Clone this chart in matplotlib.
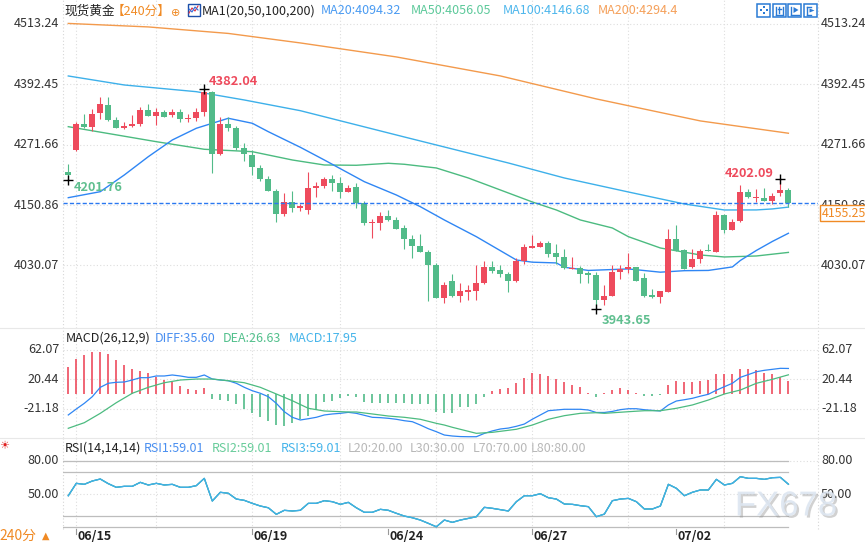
import numpy as np
import matplotlib
matplotlib.use("Agg")
import matplotlib.pyplot as plt
from matplotlib.patches import Rectangle
from matplotlib.lines import Line2D
from matplotlib import transforms
from matplotlib import patheffects as pe

plt.rcParams['font.family'] = ['Noto Sans CJK SC', 'DejaVu Sans']

# ---- 240 min gold candles ----
opens = [4216.9, 4260.9, 4312.9, 4307.5, 4334.5, 4350.9, 4320.9, 4305.0, 4309.5, 4312.3,
         4340.9, 4329.5, 4336.3, 4331.0, 4336.3, 4323.5, 4325.5, 4337.5, 4377.5, 4252.9,
         4312.9, 4304.9, 4265.5, 4250.9, 4224.9, 4202.9, 4178.9, 4133.5, 4156.9, 4145.5,
         4141.5, 4184.9, 4189.5, 4202.9, 4194.9, 4177.5, 4186.9, 4154.9, 4114.2, 4115.5,
         4128.9, 4120.9, 4104.9, 4082.9, 4068.9, 4056.9, 4030.9, 3965.5, 3998.9, 3968.9,
         3976.9, 3979.5, 3994.9, 4026.9, 4020.9, 4012.9, 3998.9, 4039.5, 4065.5, 4066.9,
         4074.9, 4054.9, 4047.5, 4022.9, 4024.9, 4014.2, 4010.9, 3960.9, 3968.9, 4017.5,
         4022.2, 4026.2, 4005.5, 3970.2, 3966.2, 3977.5, 4082.9, 4060.9, 4026.2, 4043.5,
         4060.9, 4057.5, 4130.9, 4100.9, 4118.9, 4176.9, 4165.5, 4165.5, 4159.5, 4174.2,
         4181.5]
highs = [4232.9, 4316.0, 4332.9, 4342.9, 4366.3, 4366.3, 4326.3, 4317.5, 4330.3, 4346.9,
         4352.9, 4344.3, 4340.9, 4342.9, 4342.9, 4332.3, 4344.3, 4382.04, 4378.9, 4326.9,
         4327.5, 4309.0, 4274.2, 4260.9, 4231.5, 4208.9, 4182.9, 4174.9, 4178.9, 4152.5,
         4216.9, 4196.9, 4206.9, 4210.9, 4206.9, 4190.3, 4194.9, 4158.9, 4122.9, 4136.9,
         4140.9, 4126.9, 4110.9, 4090.9, 4092.9, 4061.5, 4034.2, 3997.5, 4012.9, 3994.2,
         3991.5, 4030.9, 4038.2, 4038.2, 4030.2, 4016.9, 4044.2, 4072.9, 4090.9, 4078.2,
         4078.9, 4072.9, 4062.9, 4047.5, 4028.9, 4018.2, 4017.5, 3990.9, 4030.9, 4031.5,
         4055.5, 4027.5, 4015.5, 3982.2, 3979.0, 4102.9, 4110.2, 4063.5, 4062.2, 4062.9,
         4072.2, 4138.9, 4132.0, 4122.9, 4190.9, 4183.5, 4182.3, 4184.3, 4174.3, 4202.09,
         4185.5]
lows = [4201.76, 4259.5, 4305.0, 4299.5, 4323.5, 4318.9, 4304.0, 4303.5, 4306.0, 4309.0,
        4328.5, 4311.5, 4326.5, 4326.9, 4317.5, 4317.5, 4319.5, 4329.5, 4215.5, 4250.9,
        4299.5, 4260.9, 4238.9, 4210.9, 4199.5, 4178.5, 4117.5, 4129.5, 4137.5, 4139.5,
        4133.5, 4167.5, 4185.5, 4179.5, 4165.5, 4176.5, 4145.5, 4111.5, 4085.5, 4101.5,
        4119.5, 4102.5, 4063.5, 4045.5, 4056.5, 3959.5, 3964.5, 3954.2, 3967.5, 3957.5,
        3961.5, 3961.5, 3993.5, 4014.2, 4006.2, 3977.5, 3997.5, 4032.2, 4064.5, 4065.9,
        4046.9, 4033.5, 4022.2, 4021.9, 3995.5, 3994.2, 3943.65, 3950.0, 3967.9, 4002.9,
        4015.5, 3999.0, 3967.5, 3965.0, 3954.2, 3976.5, 4058.5, 4022.5, 4025.0, 4035.5,
        4058.0, 4056.5, 4095.5, 4099.9, 4116.9, 4165.5, 4157.5, 4159.0, 4152.3, 4168.9,
        4146.3]
closes = [4211.5, 4312.9, 4307.5, 4332.9, 4352.9, 4321.5, 4305.5, 4309.5, 4312.3, 4340.9,
          4329.5, 4336.3, 4327.5, 4336.3, 4323.5, 4325.0, 4336.3, 4377.5, 4253.5, 4312.3,
          4305.5, 4265.5, 4252.2, 4226.1, 4203.5, 4179.5, 4133.5, 4156.9, 4145.5, 4149.5,
          4184.9, 4189.5, 4202.9, 4194.9, 4177.5, 4184.9, 4155.5, 4115.5, 4117.5, 4128.9,
          4121.5, 4103.5, 4083.5, 4069.5, 4057.5, 4031.5, 3965.5, 3990.9, 3968.9, 3978.9,
          3980.9, 3994.9, 4026.9, 4018.9, 4012.9, 3998.9, 4039.5, 4066.9, 4069.5, 4074.9,
          4053.5, 4047.5, 4024.2, 4024.9, 4013.5, 4010.9, 3960.9, 3968.9, 4016.9, 4022.2,
          4026.2, 3999.5, 3968.9, 3966.2, 3978.2, 4082.9, 4059.5, 4023.5, 4042.9, 4058.9,
          4058.9, 4130.9, 4100.9, 4116.9, 4176.9, 4166.2, 4167.5, 4159.5, 4169.5, 4180.9,
          4155.25]

# moving averages, read at a few bars each
ma20_idx = [0, 4, 7, 10, 13, 16, 20, 23, 25, 29, 32, 37, 41, 44, 47, 51, 56, 58, 61, 62,
            65, 70, 74, 77, 80, 83, 84, 86, 88, 90]
ma20_val = [4165.5, 4177.5, 4210.9, 4247.5, 4280.9, 4304.3, 4324.3, 4314.3, 4297.5, 4266.3,
            4240.9, 4197.5, 4170.9, 4147.5, 4120.9, 4087.5, 4040.9, 4036.5, 4035.0, 4026.3,
            4020.0, 4023.0, 4016.5, 4019.5, 4020.0, 4027.0, 4040.0, 4060.0, 4078.0, 4094.32]
ma50_idx = [0, 11, 17, 23, 28, 32, 36, 40, 42, 46, 50, 54, 58, 61, 64, 68, 70, 74, 79, 82,
            86, 90]
ma50_val = [4307.5, 4277.5, 4262.3, 4257.5, 4240.9, 4230.9, 4230.3, 4234.3, 4232.3, 4224.9,
            4204.9, 4180.9, 4156.9, 4140.9, 4120.9, 4104.9, 4087.5, 4064.9, 4050.9, 4046.9,
            4048.9, 4056.05]
ma100_idx = [0, 7, 16, 22, 29, 42, 55, 62, 70, 77, 82, 86, 88, 90]
ma100_val = [4408.9, 4390.9, 4377.5, 4360.9, 4339.5, 4286.9, 4234.9, 4204.9, 4176.9, 4152.9,
             4140.9, 4141.0, 4143.0, 4146.68]
ma200_idx = [0, 10, 20, 29, 41, 54, 66, 79, 90]
ma200_val = [4514.0, 4507.0, 4494.0, 4475.0, 4447.0, 4409.0, 4363.0, 4319.0, 4294.4]

# MACD(26,12,9)
diff_vals = [-30.0, -21.6, -13.6, -4.2, 9.0, 14.7, 16.1, 16.5, 19.3, 22.6,
             22.6, 25.0, 25.0, 26.4, 25.0, 23.1, 23.1, 26.4, 20.7, 19.3,
             18.3, 14.7, 9.0, 4.2, 0.6, -4.2, -13.6, -25.4, -33.3, -37.1,
             -35.3, -33.3, -30.0, -28.6, -27.7, -26.3, -27.7, -30.5, -33.3, -33.8,
             -34.7, -36.1, -38.1, -39.5, -44.2, -49.4, -53.6, -58.3, -59.7, -60.5,
             -60.7, -60.7, -56.0, -52.5, -49.8, -48.5, -46.0, -42.8, -36.0, -30.0,
             -24.0, -23.0, -22.0, -22.0, -22.0, -23.0, -26.5, -26.5, -25.0, -22.5,
             -21.2, -21.2, -22.6, -23.5, -24.4, -15.9, -10.3, -8.5, -6.5, -3.5,
             -0.8, 5.0, 9.9, 14.7, 23.1, 27.0, 31.0, 33.0, 34.4, 35.8,
             35.60]
dea_idx = [0, 2, 4, 6, 8, 10, 12, 14, 16, 18, 20, 22, 24, 26, 28, 30, 32, 35, 36, 38,
           40, 42, 44, 46, 47, 48, 51, 53, 56, 58, 60, 62, 64, 66, 67, 70, 72, 74, 76, 78,
           80, 82, 84, 86, 88, 90]
dea_val = [-48.8, -40.9, -27.7, -12.7, 0.6, 9.0, 15.5, 19.3, 20.7, 20.7, 18.3, 15.5, 9.0,
           -0.4, -9.9, -20.6, -24.4, -25.8, -25.8, -28.6, -31.5, -33.3, -36.1, -41.8, -44.2,
           -47.4, -55.9, -54.5, -50.2, -44.2, -36.1, -31.0, -27.7, -26.8, -27.7, -25.4, -24.0,
           -24.0, -20.6, -15.9, -8.9, -0.4, 5.2, 14.7, 20.3, 26.63]
macd_hist = [38.1, 49.0, 54.6, 58.8, 58.8, 56.5, 47.6, 40.9, 34.9, 31.6,
             29.6, 24.0, 19.3, 16.9, 10.9, 6.6, 5.2, 8.0, -7.9, -8.9,
             -10.3, -14.5, -22.0, -27.7, -33.3, -38.1, -44.2, -45.1, -41.9, -36.2,
             -31.0, -23.0, -12.2, -9.9, -6.6, -3.3, -4.2, -11.3, -12.7, -12.7,
             -12.7, -12.7, -13.6, -14.5, -14.5, -14.5, -26.3, -26.8, -27.7, -19.2,
             -19.2, -14.5, -4.2, 3.8, 6.6, 8.5, 15.5, 22.1, 29.2, 27.8,
             25.4, 20.7, 16.5, 12.3, 9.9, 1.4, -4.2, 1.4, 5.2, 7.6,
             5.2, 1.4, -2.8, -2.8, -2.4, 12.3, 17.9, 16.5, 16.5, 17.9,
             19.3, 28.2, 28.2, 28.2, 35.3, 35.3, 33.4, 29.6, 27.4, 23.6,
             17.95]

# RSI(14,14,14) - the three lines coincide on this chart
rsi_vals = [48.6, 59.8, 58.9, 61.9, 63.7, 59.5, 56.2, 57.1, 57.1, 60.7,
            58.3, 59.8, 58.3, 58.9, 56.2, 56.2, 57.7, 64.3, 43.8, 51.7,
            50.8, 45.6, 44.4, 41.7, 39.3, 37.7, 31.8, 35.4, 34.8, 35.4,
            41.7, 41.7, 44.1, 43.2, 40.8, 42.6, 37.7, 33.6, 33.6, 36.3,
            35.4, 32.7, 30.2, 28.7, 26.6, 23.6, 20.5, 26.6, 24.5, 26.6,
            28.1, 29.6, 38.1, 37.2, 36.0, 34.8, 43.2, 48.6, 48.6, 50.4,
            46.8, 45.6, 41.1, 40.8, 39.6, 38.7, 29.6, 32.0, 44.1, 45.6,
            46.2, 43.2, 36.6, 36.6, 39.3, 58.9, 55.3, 48.6, 51.7, 53.8,
            53.8, 63.4, 58.3, 59.8, 65.8, 64.3, 64.3, 63.4, 64.9, 65.2,
            59.01]
rsi_levels = [20, 30, 70, 80]

date_idx = [1, 23, 40, 58, 76]
date_labels = ["06/15", "06/19", "06/24", "06/27", "07/02"]
grid_idx = [1, 11, 23, 34, 46, 58, 70, 82]
price_ticks = [4513.24, 4392.45, 4271.66, 4150.86, 4030.07]
macd_ticks = [62.07, 20.44, -21.18]
rsi_ticks = [80.00, 50.00]

# bars to flag with the high/low marker
marks = [(17, "high"), (0, "low"), (66, "low"), (89, "high")]

# ---- colours ----
RED = "#ee4b5d"
GREEN = "#52bb89"
C_MA20 = "#2f86f4"
C_MA50 = "#4cbb80"
C_MA100 = "#3db0ea"
C_MA200 = "#f39a4c"
GRID = "#dedede"
TXT = "#333333"
ORANGE = "#f08a24"

W, H = 865, 542
PX_L, PX_R = 63, 818
XLIM = (-0.66, 93.7)

fig = plt.figure(figsize=(W / 100, H / 100), dpi=100)


def panel(top, bottom):
    return fig.add_axes([PX_L / W, 1 - bottom / H, (PX_R - PX_L) / W, (bottom - top) / H])


def fx(x):
    return x / W


def fy(y):
    return 1 - y / H


def ftext(x, y, s, **kw):
    kw.setdefault("va", "center")
    kw.setdefault("fontsize", 9)
    fig.text(fx(x), fy(y), s, **kw)


def fline(xs, ys, **kw):
    fig.add_artist(Line2D([fx(v) for v in xs], [fy(v) for v in ys],
                          transform=fig.transFigure, **kw))


def frect(x0, y0, x1, y1, **kw):
    fig.add_artist(Rectangle((fx(x0), fy(y1)), (x1 - x0) / W, (y1 - y0) / H,
                             transform=fig.transFigure, **kw))


ax_k = panel(0, 328)
ax_m = panel(328, 438)
ax_r = panel(438, 529)
ax_k.set_ylim(3904.86, 4560.86)
ax_m.set_ylim(-62.5, 92.7)
ax_r.set_ylim(18.5, 100.8)

for ax, ticks in ((ax_k, price_ticks), (ax_m, macd_ticks), (ax_r, rsi_ticks)):
    ax.set_xlim(*XLIM)
    ax.axis("off")
    for v in ticks:
        ax.axhline(v, color=GRID, lw=0.8, ls=(0, (1, 2)), zorder=0)
        ax.text(-0.005, v, f"{v:.2f}", transform=ax.get_yaxis_transform(),
                ha="right", va="center", fontsize=9, color=TXT)
        ax.text(1.004, v, f"{v:.2f}", transform=ax.get_yaxis_transform(),
                ha="left", va="center", fontsize=9, color=TXT)
    for i in grid_idx:
        ax.axvline(i, color=GRID, lw=0.8, ls=(0, (1, 2)), zorder=0)
    for xa in (0, 1):
        ax.plot([xa, xa], [0, 1], transform=ax.transAxes, color="#d6d6d6", lw=0.8,
                ls=(0, (1, 2)), clip_on=False)

# panel separators
for yy in (328, 438):
    fline([0, 865], [yy, yy], color="#e8e8e8", lw=0.8)

# ---- candles ----
x = np.arange(len(closes))
o, h, l, c = map(np.array, (opens, highs, lows, closes))
col = np.where(c >= o, RED, GREEN)
ax_k.vlines(x, l, h, colors=col, lw=0.8, zorder=3)
ax_k.bar(x, np.maximum(np.abs(c - o), 1.4), bottom=np.minimum(o, c), width=0.75,
         color=col, linewidth=0, zorder=3)

ax_k.plot(ma200_idx, ma200_val, color=C_MA200, lw=1, zorder=2)
ax_k.plot(ma100_idx, ma100_val, color=C_MA100, lw=1, zorder=2)
ax_k.plot(ma50_idx, ma50_val, color=C_MA50, lw=1, zorder=2)
ax_k.plot(ma20_idx, ma20_val, color=C_MA20, lw=1, zorder=2)

# last price line and tag
last = closes[-1]
ax_k.axhline(last, color="#2a78f0", lw=1, ls=(0, (3, 1.6)), zorder=4)
ax_k.annotate(f"{last:.2f}", xy=(1.0, last), xycoords=("axes fraction", "data"),
              xytext=(3.5, -10.5), textcoords="offset pixels", ha="left", va="center",
              fontsize=8.9, color=ORANGE, annotation_clip=False, zorder=6,
              bbox=dict(boxstyle="square,pad=0.12", fc="white", ec=ORANGE, lw=1))

# high / low flags
for i, kind in marks:
    v = highs[i] if kind == "high" else lows[i]
    ax_k.plot(i, v, marker="+", color="black", ms=7, mew=1, zorder=5, clip_on=False)
    tc = RED if kind == "high" else "#5fbf8f"
    if i > 80:
        off, ha = (-7, 6), "right"
    elif kind == "high":
        off, ha = (4, 7.5), "left"
    elif i > 40:
        off, ha = (5, -11.5), "left"
    else:
        off, ha = (5, -8), "left"
    ax_k.annotate(f"{v:.2f}", xy=(i, v), xytext=off, textcoords="offset pixels",
                  ha=ha, va="center", fontsize=9.2, fontweight="bold", color=tc, zorder=5)

# ---- MACD ----
hist = np.array(macd_hist)
ax_m.vlines(x, 0, hist, colors=np.where(hist >= 0, RED, GREEN), lw=1.2)
ax_m.plot(x, diff_vals, color=C_MA20, lw=0.9)
ax_m.plot(dea_idx, dea_val, color=C_MA50, lw=0.9)

# ---- RSI ----
for lv in rsi_levels:
    ax_r.plot([XLIM[0], x[-1]], [lv, lv], color="#bdbdbd", lw=0.9)
ax_r.plot(x, rsi_vals, color="#4a8ff0", lw=0.9)
ax_r.plot(x, rsi_vals, color="#52c08c", lw=0.9)
ax_r.plot(x, rsi_vals, color=C_MA100, lw=0.9)

# date axis
bt = transforms.blended_transform_factory(ax_r.transData, fig.transFigure)
for i, lab in zip(date_idx, date_labels):
    fig.add_artist(Line2D([i, i], [fy(529), fy(534)], transform=bt, color="#999999", lw=0.8))
    fig.text(i + 0.1, fy(536.5), lab, transform=bt, ha="left", va="center",
             fontsize=9, fontweight="bold", color="#222222")

# ---- header texts ----
ftext(64, 11, "现货黄金", color="#222222", fontsize=9.1)
ftext(112, 11, "【240分】", color=ORANGE, fontsize=9.1)
ftext(176, 12.5, "⊕", color=ORANGE, fontsize=8, ha="center", family=["DejaVu Sans"])
frect(187.5, 3.5, 199.5, 16, fill=False, ec="#1d4fa8", lw=1)
fline([189, 192, 195, 198], [13, 8, 11, 6], color="#e03040", lw=0.8)
fline([189, 192, 195, 198], [9, 12, 7, 10], color="#2f6fe0", lw=0.8)
ftext(202, 11, "MA1(20,50,100,200)", color="#222222")
ftext(321, 11, "MA20:4094.32", color="#4a9bf2")
ftext(411, 11, "MA50:4056.05", color="#5cc99a")
ftext(503, 11, "MA100:4146.68", color="#4db6ec")
ftext(598, 11, "MA200:4294.4", color="#f5a05a")

# toolbar icons, top right
for k in range(4):
    x0 = 757 + 15.5 * k
    frect(x0, 4, x0 + 13.3, 16.7, fill=False, ec="#2a7ad5", lw=1.1)
ix = 757
for dx, dy in ((0, -3), (0, 3), (-3, 0), (3, 0)):
    frect(ix + 6.65 + dx - 1, 10.3 + dy - 1, ix + 6.65 + dx + 1, 10.3 + dy + 1,
          fc="#2a7ad5", ec="none")
ix = 772.5
fline([ix + 3, ix + 3], [6.5, 14.5], color="#2a7ad5", lw=1)
fline([ix + 10, ix + 10], [6.5, 14.5], color="#2a7ad5", lw=1)
fline([ix + 5, ix + 8], [9, 9], color="#2a7ad5", lw=1)
fline([ix + 6.5, ix + 6.5], [7, 13], color="#2a7ad5", lw=1)
fline([ix + 3, ix + 10], [14.5, 14.5], color="#2a7ad5", lw=1)
ix = 788
fline([ix + 3, ix + 3], [6.5, 14.5], color="#2a7ad5", lw=1)
fline([ix + 3, ix + 11], [14.5, 14.5], color="#2a7ad5", lw=1)
fig.add_artist(plt.Polygon([(fx(ix + 5.5), fy(7)), (fx(ix + 5.5), fy(13)), (fx(ix + 10.5), fy(10))],
                           transform=fig.transFigure, fc="#2a7ad5", ec="none"))
ix = 803.5
fline([ix + 3, ix + 3], [6.5, 14.5], color="#2a7ad5", lw=1)
fline([ix + 3, ix + 7], [6.5, 6.5], color="#2a7ad5", lw=1)
fline([ix + 3, ix + 7], [14.5, 14.5], color="#2a7ad5", lw=1)
fig.add_artist(plt.Polygon([(fx(ix + 6), fy(8.5)), (fx(ix + 6), fy(12.5)), (fx(ix + 11), fy(10.5))],
                           transform=fig.transFigure, fc="#2a7ad5", ec="none"))

# MACD legend
ftext(66, 338, "MACD(26,12,9)", color="#222222")
ftext(155, 338, "DIFF:35.60", color="#4a8ff0")
ftext(223, 338, "DEA:26.63", color="#52c08c")
ftext(289, 338, "MACD:17.95", color="#45b4ea")

# RSI legend
ftext(4, 446, "☀", color="#e02020", fontsize=8, ha="center", family=["DejaVu Sans"])
ftext(65, 448, "RSI(14,14,14)", color="#222222")
ftext(144, 448, "RSI1:59.01", color="#4a8ff0")
ftext(212, 448, "RSI2:59.01", color="#67cc9a")
ftext(281, 448, "RSI3:59.01", color="#45b4ea")
ftext(348, 448, "L20:20.00", color="#b8b8b8")
ftext(410, 448, "L30:30.00", color="#b8b8b8")
ftext(473, 448, "L70:70.00", color="#b8b8b8")
ftext(531, 448, "L80:80.00", color="#b8b8b8")

ftext(-1, 536, "240分", color=ORANGE, fontsize=10)
ftext(46, 536, "▲", color=ORANGE, fontsize=7, ha="center", family=["DejaVu Sans"])

# watermark
fig.text(fx(786), fy(506), "FX678", ha="center", va="center", fontsize=25,
         family=["Liberation Sans"], color="#dde6f1", alpha=0.9,
         path_effects=[pe.SimplePatchShadow(offset=(1.5, -1.5), shadow_rgbFace="#9a9a9a",
                                            alpha=0.45), pe.Normal()])

fig.savefig("out.png", dpi=100)
